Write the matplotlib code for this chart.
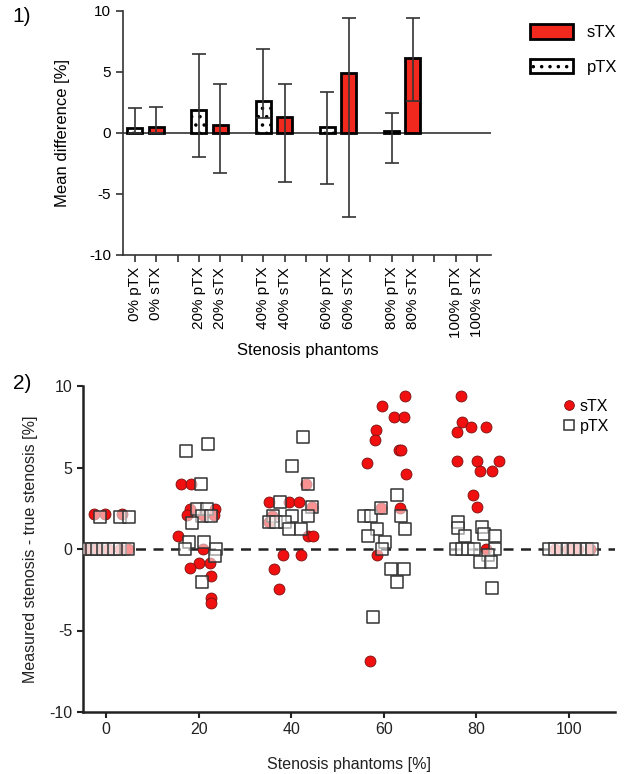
import numpy as np
import matplotlib
matplotlib.use("Agg")
import matplotlib.pyplot as plt
from matplotlib.patches import Patch
from matplotlib.lines import Line2D

plt.rcParams['font.family'] = ['Liberation Sans', 'DejaVu Sans']
plt.rcParams['hatch.linewidth'] = 1.3

# ---- panel 1 data: mean difference with min/max range ----
bar_labels = ["0% pTX", "0% sTX", "20% pTX", "20% sTX", "40% pTX", "40% sTX",
              "60% pTX", "60% sTX", "80% pTX", "80% sTX", "100% pTX", "100% sTX"]
bar_pos = [0, 1, 3, 4, 6, 7, 9, 10, 12, 13, 15, 16]
bar_mean = [0.44, 0.46, 1.86, 0.63, 2.6, 1.31, 0.46, 4.89, 0.19, 6.17, np.nan, np.nan]
bar_hi = [2.02, 2.13, 6.45, 4.02, 6.91, 4.0, 3.33, 9.45, 1.61, 9.45, np.nan, np.nan]
bar_lo = [0.0, 0.0, -1.97, -3.3, 1.2, -4.0, -4.18, -6.9, -2.43, 2.65, np.nan, np.nan]
bar_kind = ["pTX", "sTX"] * 6

# ---- panel 2 data: individual measurements ----
s_x = [-4.3, -3.1, -1.9, 0.5, 3.0, 4.8, -2.7, -0.2, 3.4,
       16.2, 18.3, 18.2, 17.5, 23.5, 23.3, 15.6, 21.0, 20.0, 18.2, 22.5, 22.7, 22.6, 22.6, 20.9,
       35.3, 39.6, 41.7, 43.3, 44.4, 43.6, 44.7, 38.2, 42.2, 36.2, 37.3, 35.9, 35.3,
       64.6, 59.6, 62.3, 64.3, 58.3, 58.2, 56.3, 63.3, 63.8, 64.8, 63.6, 59.4, 58.5, 57.1,
       76.7, 76.9, 78.9, 82.1, 75.8, 75.8, 80.1, 84.9, 80.8, 83.4, 79.3, 80.1, 82.1,
       100.9, 102.0, 104.6, 97.0, 99.8]
s_y = [0, 0, 0, 0, 0, 0, 2.12, 2.12, 2.12,
       4.0, 4.0, 2.43, 2.08, 2.43, 2.08, 0.8, 0.0, -0.84, -1.19, -0.84, -1.64, -2.99, -3.29, 2.08,
       2.9, 2.9, 2.9, 4.0, 2.6, 0.8, 0.8, -0.39, -0.39, -1.2, -2.48, 2.0, 1.67,
       9.4, 8.8, 8.1, 8.1, 7.3, 6.7, 5.3, 6.05, 6.05, 4.6, 2.5, 2.5, -0.39, -6.9,
       9.4, 7.8, 7.5, 7.5, 7.2, 5.4, 5.4, 5.4, 4.8, 4.8, 3.3, 2.6, 0.0,
       0, 0, 0, 0, 0]
p_x = [-4.3, -3.1, -1.9, -0.6, 0.5, 1.7, 3.0, 4.8, -1.4, 3.0, 5.0,
       17.3, 22.1, 20.6, 19.7, 21.9, 20.8, 22.7, 18.6, 18.0, 21.1, 17.0, 23.8, 23.6, 20.8,
       42.6, 40.1, 43.6, 44.5, 37.5, 36.0, 40.2, 43.6, 35.3, 36.7, 38.7, 39.6, 42.1,
       62.8, 55.8, 57.2, 59.5, 63.8, 58.6, 64.7, 56.6, 60.2, 59.6, 61.6, 64.4, 62.8, 57.6,
       76.1, 76.1, 77.6, 81.3, 81.7, 84.0, 75.6, 76.9, 78.2, 79.5, 84.0, 82.5, 80.8, 83.2, 83.4,
       95.7, 97.0, 98.3, 99.8, 101.1, 102.4, 103.9, 105.0]
p_y = [0, 0, 0, 0, 0, 0, 0, 0, 1.98, 1.98, 1.98,
       6.0, 6.42, 4.0, 2.43, 2.43, 2.04, 2.04, 1.6, 0.43, 0.43, 0.0, 0.0, -0.43, -2.05,
       6.9, 5.1, 4.0, 2.6, 2.9, 2.0, 2.0, 2.0, 1.67, 1.67, 1.67, 1.2, 1.2,
       3.3, 2.0, 2.0, 2.5, 2.0, 1.2, 1.2, 0.8, 0.4, 0.0, -1.23, -1.23, -2.05, -4.2,
       1.67, 1.27, 0.8, 1.37, 0.92, 0.8, 0, 0, 0, 0, 0, -0.37, -0.78, -0.78, -2.37,
       0, 0, 0, 0, 0, 0, 0, 0]

red = "#f0281e"
axcol = "#333333"

fig = plt.figure(figsize=(6.25, 7.74), dpi=100)

# ---------------- panel 1 ----------------
ax1 = fig.add_axes([123/625, 1-255/774, (491-123)/625, (255-11)/774])
for x, m, k in zip(bar_pos, bar_mean, bar_kind):
    if np.isnan(m):
        continue
    if k == "sTX":
        ax1.bar(x, m, width=0.7, color=red, edgecolor="black", linewidth=2, zorder=2)
    else:
        ax1.bar(x, m, width=0.7, color="white", edgecolor="black", linewidth=2,
                hatch="..", zorder=2)
for x, m, lo, hi in zip(bar_pos, bar_mean, bar_lo, bar_hi):
    if np.isnan(m):
        continue
    ax1.errorbar(x, m, yerr=[[m - lo], [hi - m]], fmt="none", ecolor=axcol,
                 elinewidth=1.2, capsize=5, capthick=1.2, zorder=3)
ax1.axhline(0, color=axcol, linewidth=1.2, zorder=1)
ax1.set_xlim(-0.55, 16.65)
ax1.set_ylim(-10, 10)
ax1.set_yticks([-10, -5, 0, 5, 10])
ax1.set_yticklabels(["-10", "-5", "0", "5", "10"])
ax1.set_xticks(range(17))
lab = [""] * 17
for p, l in zip(bar_pos, bar_labels):
    lab[p] = l
ax1.set_xticklabels(lab, rotation=90, fontsize=11)
ax1.spines["top"].set_visible(False)
ax1.spines["right"].set_visible(False)
for s in ["left", "bottom"]:
    ax1.spines[s].set_color(axcol)
    ax1.spines[s].set_linewidth(1.2)
ax1.tick_params(axis="both", colors=axcol, labelcolor="black", width=1.2, length=5,
                labelsize=11)
ax1.set_ylabel("Mean difference [%]", fontsize=12, labelpad=14)
fig.text(308/625, 1-351/774, "Stenosis phantoms", fontsize=12, ha="center", va="center")
fig.text(22/625, 1-17/774, "1)", fontsize=15, ha="center", va="center")

h1 = [Patch(facecolor=red, edgecolor="black", linewidth=2),
      Patch(facecolor="white", edgecolor="black", linewidth=2, hatch="..")]
fig.legend(h1, ["sTX", "pTX"], loc="upper left", bbox_to_anchor=(515/625, 1-9/774),
           frameon=False, fontsize=12, handlelength=2.6, handleheight=1.0,
           labelspacing=1.1, handletextpad=0.8)

# ---------------- panel 2 ----------------
ax2 = fig.add_axes([83/625, 1-712/774, (615-83)/625, (712-386)/774])
ax2.axhline(0, color="#222222", linewidth=1.8, linestyle=(0, (4, 3)), zorder=1)
ax2.scatter(s_x, s_y, s=62, color="#f01010", edgecolor="#7a1010", linewidth=0.6,
            zorder=2, label="sTX")
ax2.scatter(p_x, p_y, s=72, marker="s", facecolor=(1, 1, 1, 0.55),
            edgecolor="#333333", linewidth=1.1, zorder=3, label="pTX")
ax2.set_xlim(-5, 110)
ax2.set_ylim(-10, 10)
ax2.set_xticks([0, 20, 40, 60, 80, 100])
ax2.set_yticks([-10, -5, 0, 5, 10])
ax2.set_yticklabels(["-10", "-5", "0", "5", "10"])
ax2.spines["top"].set_visible(False)
ax2.spines["right"].set_visible(False)
for s in ["left", "bottom"]:
    ax2.spines[s].set_color("#222222")
    ax2.spines[s].set_linewidth(1.8)
ax2.tick_params(axis="both", colors="#222222", labelcolor="#222222", width=1.5,
                length=4, labelsize=11.5)
ax2.set_ylabel("Measured stenosis - true stenosis [%]", fontsize=11.5, color="#222222",
               labelpad=8)
ax2.set_xlabel("Stenosis phantoms [%]", fontsize=11.5, color="#222222", labelpad=14)
h2 = [Line2D([], [], marker="o", linestyle="none", markersize=7, color="#f01010",
             markeredgecolor="#7a1010", markeredgewidth=0.6),
      Line2D([], [], marker="s", linestyle="none", markersize=7.5,
             markerfacecolor="white", markeredgecolor="#333333", markeredgewidth=1.1)]
ax2.legend(h2, ["sTX", "pTX"], loc="upper right", bbox_to_anchor=(1.01, 0.995),
           frameon=False, fontsize=11.5, handlelength=0.8, handletextpad=0.3,
           labelspacing=0.3, borderpad=0.2)
fig.text(22/625, 1-383/774, "2)", fontsize=15, ha="center", va="center")

fig.savefig("out.png", dpi=100)
